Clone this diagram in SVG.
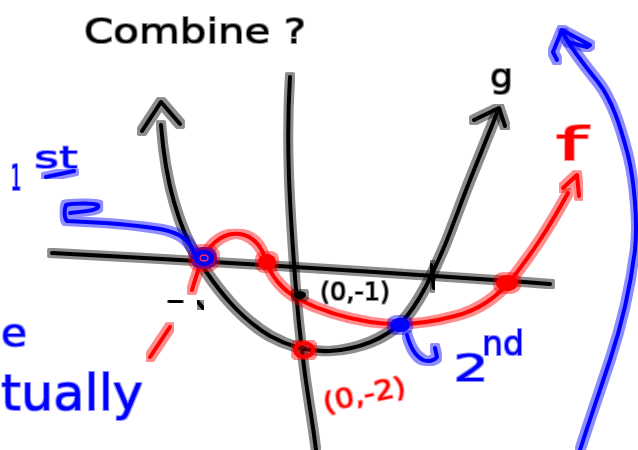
<svg xmlns="http://www.w3.org/2000/svg" width="638" height="450" viewBox="0 0 638 450">
<defs>
<filter id="halo" x="-20%" y="-20%" width="140%" height="140%">
<feMorphology in="SourceGraphic" operator="dilate" radius="2.5" result="d"/>
<feComponentTransfer in="d" result="h"><feFuncA type="linear" slope="0.45"/></feComponentTransfer>
<feMerge><feMergeNode in="h"/><feMergeNode in="SourceGraphic"/></feMerge>
</filter>
<filter id="halo2" x="-20%" y="-20%" width="140%" height="140%">
<feMorphology in="SourceGraphic" operator="dilate" radius="1.3" result="d"/>
<feComponentTransfer in="d" result="h"><feFuncA type="linear" slope="0.45"/></feComponentTransfer>
<feMerge><feMergeNode in="h"/><feMergeNode in="SourceGraphic"/></feMerge>
</filter>
</defs>
<style>
.k path{stroke:#000;stroke-width:4;fill:none;stroke-linecap:round;stroke-linejoin:round}
.r path{stroke:#ff0000;stroke-width:4;fill:none;stroke-linecap:round;stroke-linejoin:round}
.b path{stroke:#0000ff;stroke-width:4;fill:none;stroke-linecap:round;stroke-linejoin:round}
path,ellipse{filter:url(#halo)}
text{font-family:"DejaVu Sans","Liberation Sans",sans-serif;filter:url(#halo2)}
.k text{fill:#000}
.r text{fill:#ff0000}
.b text{fill:#0000ff}
</style>
<rect width="638" height="450" fill="#fff"/>

<g id="title" class="k">
<text x="84" y="43" font-size="34" textLength="222" lengthAdjust="spacingAndGlyphs">Combine ?</text>
</g>

<g id="axes" class="k">
<path d="M52,253 Q300,266 550,284"/>
<path d="M290,77 C286,140 289,200 296,290 S310,400 316,450"/>
<path d="M170,301 L181,302"/>
<path d="M198,302 L203,308"/>
<path d="M437,310 L437,318"/>
<path d="M431,265 L434,288"/>
</g>

<g id="g-curve" class="k">
<path d="M161,125 C163,150 167,178 174,202 C182,230 192,252 205,270 C220,292 240,318 270,336 C290,347 310,352 330,351 C360,349 385,338 402,322 C420,302 432,275 445,245 C455,220 462,200 470,180 L497,113"/>
<path d="M142,131 L161,102 L180,124"/>
<path d="M474,120 L499,108 L505,126"/>
<text x="490" y="87" font-size="32" textLength="23" lengthAdjust="spacingAndGlyphs">g</text>
</g>

<g id="f-curve" class="r">
<path d="M192,290 C195,280 198,268 205,255 C212,242 225,232 240,234 C255,236 262,248 266,260 C270,275 282,290 300,300 C320,310 345,318 370,322 C395,326 425,324 455,316 C480,310 500,295 515,275 C530,255 545,235 568,193"/>
<path d="M563,188 L577,175 L579,196"/>
<path d="M150,357 L170,327"/>
<text x="555" y="160" font-size="46" textLength="33" lengthAdjust="spacingAndGlyphs">f</text>
</g>

<g id="points">
<g class="r">
<ellipse cx="204" cy="258" rx="13" ry="11" fill="#ff0000"/>
<ellipse cx="267" cy="262" rx="9" ry="8" fill="#ff0000"/>
<ellipse cx="507" cy="283" rx="11" ry="8" fill="#ff0000"/>
<ellipse cx="304" cy="350" rx="9" ry="7" fill="none" stroke="#ff0000" stroke-width="4"/>
</g>
<g class="k">
<ellipse cx="300" cy="295" rx="6" ry="4" fill="#000"/>
</g>
<g class="b">
<ellipse cx="204" cy="258" rx="10" ry="8" fill="#0000ff"/>
<ellipse cx="400" cy="325" rx="10" ry="7" fill="#0000ff"/>
</g>
<ellipse cx="204" cy="258" rx="4" ry="3" fill="none" stroke="#ff3060" stroke-width="1.5" style="filter:none"/>
</g>

<g id="labels-black" class="k">
<text x="320" y="300" font-size="24" textLength="70" lengthAdjust="spacingAndGlyphs">(0,-1)</text>
</g>

<g id="labels-red" class="r">
<text x="325" y="412" font-size="26" textLength="84" lengthAdjust="spacingAndGlyphs" transform="rotate(-12 325 412)">(0,-2)</text>
</g>

<g id="notes-blue" class="b">
<path d="M195,254 C189,240 181,233 160,229 C130,224 90,222 67,221 C64,218 64,210 66,205 C75,203 93,203 98,205 C100,210 90,211 70,213"/>
<path d="M407,335 C410,346 415,356 423,360 C428,362 434,361 437,357 L435,348"/>
<path d="M580,450 C588,425 600,390 610,360 C620,330 630,290 635,250 C638,220 634,180 628,155 C620,125 612,100 598,82 C585,66 572,50 563,33"/>
<path d="M557,60 L553,52 L562,30 L590,45 L587,47 L568,42"/>
<path d="M46,177 L74,171"/>
<text x="11" y="190" font-size="36" textLength="10" lengthAdjust="spacingAndGlyphs">1</text>
<text x="34" y="168" font-size="30" textLength="44" lengthAdjust="spacingAndGlyphs">st</text>
<text x="453" y="381" font-size="38" textLength="36" lengthAdjust="spacingAndGlyphs">2</text>
<text x="482" y="355" font-size="34" textLength="42" lengthAdjust="spacingAndGlyphs">nd</text>
<text x="1" y="346" font-size="38" textLength="26" lengthAdjust="spacingAndGlyphs">e</text>
<text x="1" y="410" font-size="50" textLength="142" lengthAdjust="spacingAndGlyphs">tually</text>
</g>
</svg>
